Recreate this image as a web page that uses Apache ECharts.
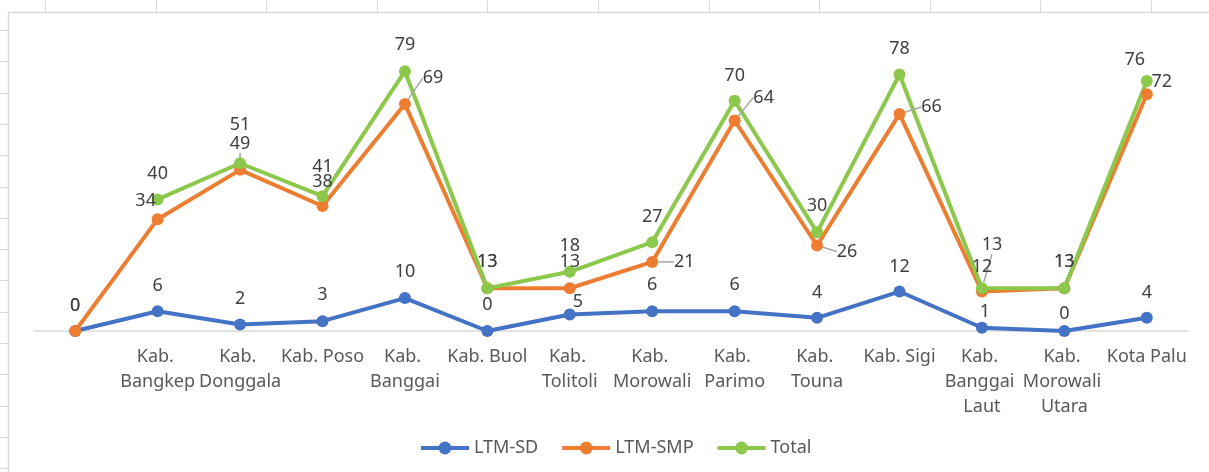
<!DOCTYPE html>
<html>
<head>
<meta charset="utf-8">
<script src="https://cdn.jsdelivr.net/npm/echarts@6/dist/echarts.min.js"></script>
<style>
  html, body { margin: 0; padding: 0; background: #fff; }
  #chart { width: 1209px; height: 472px; }
</style>
</head>
<body>
<div id="chart"></div>
<script>
// kategori (yang pertama kosong, seperti di sumber)
const categories = ['', 'Kab. Bangkep', 'Kab. Donggala', 'Kab. Poso', 'Kab. Banggai', 'Kab. Buol',
  'Kab. Tolitoli', 'Kab. Morowali', 'Kab. Parimo', 'Kab. Touna', 'Kab. Sigi',
  'Kab. Banggai Laut', 'Kab. Morowali Utara', 'Kota Palu']
const ltmSd = [0, 6, 2, 3, 10, 0, 5, 6, 6, 4, 12, 1, 0, 4]
const ltmSmp = [0, 34, 49, 38, 69, 13, 13, 21, 64, 26, 66, 12, 13, 72]
const total = [null, 40, 51, 41, 79, 13, 18, 27, 70, 30, 78, 13, 13, 76]

// posisi label (geser dari titik)
const sdOffsets = [[0, -25], [0, -25], [0, -26], [0, -26], [0, -26], [0, -26], [8, -13],
  [0, -26], [0, -26], [0, -25], [0, -25], [3, -16], [0, -17], [0, -25]]
const smpOffsets = [[0, -25], [-12, -18], [0, -26], [0, -24], [28, -26], [0, -26], [0, -26],
  [32, 0], [29, -23], [30, 6], [32, -7], [0, -25], [0, -26], [15, -12]]
const totalOffsets = [[0, -26], [0, -26], [0, -38], [0, -29], [0, -26], [0, -26], [0, -26],
  [0, -25], [0, -25], [0, -26], [0, -26], [10, -43], [0, -26], [-12, -21]]
// label yang punya garis penunjuk
const smpLeaders = [2, 3, 4, 7, 8, 9, 10]
const totalLeaders = [11]

const FONT = '"Noto Sans", "Open Sans", sans-serif'

function withLabels (values, leaders) {
  return values.map(function (v, i) {
    if (v === null) return '-'
    if (leaders.indexOf(i) >= 0) {
      return { value: v, labelLine: { show: true } }
    }
    return v
  })
}

function lineSeries (name, color, values, offsets, leaders) {
  return {
    name: name,
    type: 'line',
    data: withLabels(values, leaders),
    symbol: 'circle',
    symbolSize: 12,
    showAllSymbol: true,
    connectNulls: false,
    lineStyle: { color: color, width: 4 },
    itemStyle: { color: color },
    label: {
      show: true,
      position: 'inside',
      color: '#404040',
      fontFamily: FONT,
      fontSize: 18
    },
    labelLine: {
      show: false,
      lineStyle: { color: '#a6a6a6', width: 1.5 }
    },
    labelLayout: function (params) {
      let off = offsets[params.dataIndex]
      return { dx: off[0], dy: off[1] }
    },
    emphasis: { disabled: true },
    animation: false
  }
}

// garis sel lembar kerja di belakang grafik
let sheetLines = [
  { type: 'rect', shape: { x: 8.5, y: 12.5, width: 1300, height: 500 }, style: { fill: null, stroke: '#d9d9d9', lineWidth: 1.5 } }
]
for (let x = 45; x < 1209; x += 110.6) {
  sheetLines.push({ type: 'line', shape: { x1: Math.round(x) + 0.5, y1: 0, x2: Math.round(x) + 0.5, y2: 12 }, style: { stroke: '#d9d9d9', lineWidth: 1 } })
}
for (let y = 30; y < 472; y += 31.3) {
  sheetLines.push({ type: 'line', shape: { x1: 0, y1: Math.round(y) + 0.5, x2: 8, y2: Math.round(y) + 0.5 }, style: { stroke: '#d9d9d9', lineWidth: 1 } })
}

let myChart = echarts.init(document.getElementById('chart'))
myChart.setOption({
  backgroundColor: '#ffffff',
  animation: false,
  graphic: sheetLines,
  grid: {
    left: 34,
    right: 21,
    top: 35,
    bottom: 141
  },
  legend: {
    left: 414,
    top: 434,
    itemWidth: 48,
    itemHeight: 16,
    itemGap: 22,
    lineStyle: { width: 4 },
    textStyle: {
      color: '#595959',
      fontFamily: FONT,
      fontSize: 18
    },
    data: ['LTM-SD', 'LTM-SMP', 'Total']
  },
  xAxis: {
    type: 'category',
    data: categories,
    boundaryGap: true,
    axisTick: { show: false },
    axisLine: {
      lineStyle: { color: '#d9d9d9', width: 1.5 }
    },
    axisLabel: {
      interval: 0,
      margin: 13,
      color: '#595959',
      fontFamily: FONT,
      fontSize: 18,
      lineHeight: 25,
      width: 86,
      overflow: 'break'
    }
  },
  yAxis: {
    type: 'value',
    min: 0,
    max: 90,
    show: false,
    splitLine: { show: false }
  },
  series: [
    lineSeries('LTM-SD', '#4472c4', ltmSd, sdOffsets, []),
    lineSeries('LTM-SMP', '#ed7d31', ltmSmp, smpOffsets, smpLeaders),
    lineSeries('Total', '#8cc84b', total, totalOffsets, totalLeaders)
  ]
})
window.addEventListener('resize', function () {
  myChart.resize()
})
</script>
</body>
</html>
